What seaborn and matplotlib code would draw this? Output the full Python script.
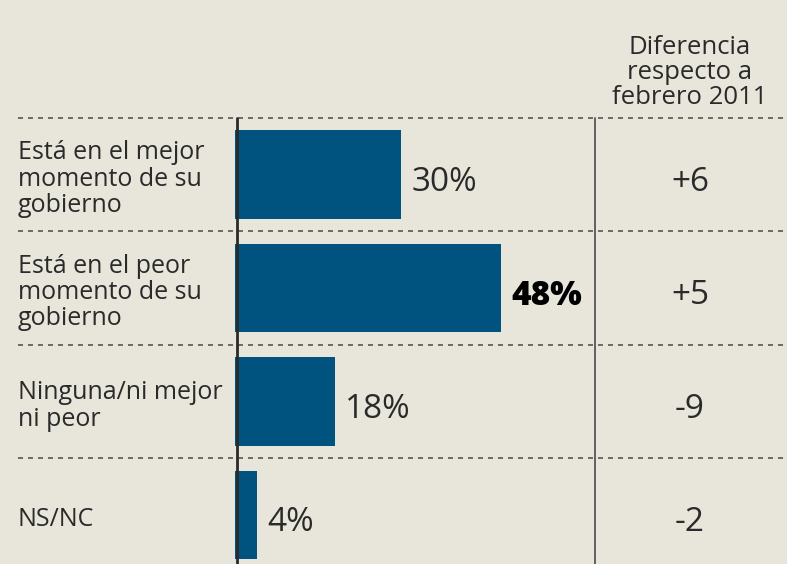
import pandas as pd
import seaborn as sns
import matplotlib.pyplot as plt

# Chart data
categories = ["Está en el mejor\nmomento de su\ngobierno",
              "Está en el peor\nmomento de su\ngobierno",
              "Ninguna/ni mejor\nni peor",
              "NS/NC"]
values = [30, 48, 18, 4]
diffs = ["+6", "+5", "-9", "-2"]
header = "Diferencia\nrespecto a\nfebrero 2011"

df = pd.DataFrame({"cat": categories, "pct": values})

bg = "#e8e5db"
bar_color = "#00527f"
txt = "#2a2a2a"

sns.set_theme(style="white")
plt.rcParams["font.family"] = ["Open Sans", "DejaVu Sans"]

fig = plt.figure(figsize=(7.87, 5.64), dpi=100, facecolor=bg)
ax = fig.add_axes([0, 0, 1, 1])
ax.set_facecolor(bg)

sns.barplot(data=df, x="pct", y="cat", orient="h", color=bar_color,
            saturation=1, width=0.78, linewidth=0, ax=ax)

# pixel-like mapping: 0% at x=235px, 5.54 px per %
px = 5.54
ax.set_xlim(-235 / px, (787 - 235) / px)
ax.set_ylim((564 - 174.5) / 113.5, -174.5 / 113.5)
ax.axis("off")

x_lab = (18 - 235) / px
x_div = (595 - 235) / px
x_col = (690 - 235) / px

# separators
for i in range(len(categories)):
    ax.plot([x_lab, 100], [i - 0.5, i - 0.5], ls=(0, (3, 3)), color="#555555", lw=1.2)
ax.plot([0.3, 0.3], [-0.5, 3.6], color="#2a2a2a", lw=2)
ax.plot([x_div, x_div], [-0.5, 3.6], color="#555555", lw=1.3)

for i, (cat, v, d) in enumerate(zip(categories, values, diffs)):
    ax.text(x_lab, i + 0.04, cat, ha="left", va="center", fontsize=18, color=txt,
            linespacing=1.07)
    big = v == max(values)
    ax.text(v + 1.8, i + 0.07, f"{v}%", ha="left", va="center", fontsize=24,
            color="black" if big else txt, fontweight="black" if big else "normal")
    ax.text(x_col, i + 0.07, d, ha="center", va="center", fontsize=24, color=txt)

ax.text(x_col, -0.565, header, ha="center", va="bottom", fontsize=18.5,
        color=txt, linespacing=1.02)

fig.savefig("out.png", dpi=100, facecolor=bg)
